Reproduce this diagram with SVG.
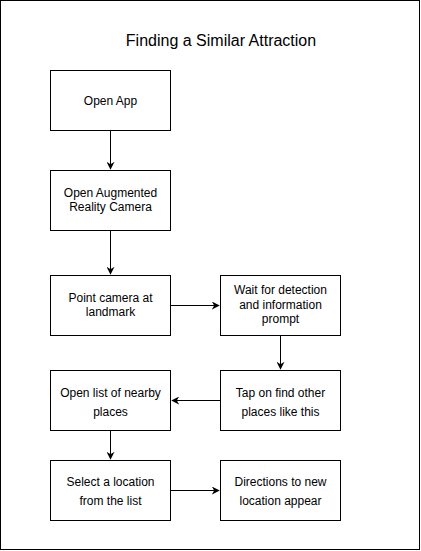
<svg xmlns="http://www.w3.org/2000/svg" width="421" height="551" viewBox="0 0 421 551">
<style>
.box{fill:#fff;stroke:#000;stroke-width:1}
.t{font-family:"Liberation Sans",Arial,sans-serif;font-size:12px;fill:#000;text-anchor:middle}
.c{fill:none;stroke:#000;stroke-width:1}
</style>
<defs>
<marker id="a" viewBox="0 0 10 10" refX="9" refY="5" markerWidth="8" markerHeight="8" markerUnits="userSpaceOnUse" orient="auto">
<path d="M0,0 L10,5 L0,10 L3,5 Z" fill="#000"/>
</marker>
</defs>
<rect x="0.5" y="0.5" width="419" height="549" fill="#fff" stroke="#000"/>
<text x="221" y="46" font-family="Liberation Sans,Arial,sans-serif" font-size="16" text-anchor="middle">Finding a Similar Attraction</text>
<g id="connectors">
<path class="c" d="M110.5,130.5 V169" marker-end="url(#a)"/>
<path class="c" d="M110.5,230.5 V274" marker-end="url(#a)"/>
<path class="c" d="M170.5,305.5 H219" marker-end="url(#a)"/>
<path class="c" d="M280.5,335.5 V369" marker-end="url(#a)"/>
<path class="c" d="M220.5,400.5 H172" marker-end="url(#a)"/>
<path class="c" d="M110.5,430.5 V459" marker-end="url(#a)"/>
<path class="c" d="M170.5,490.5 H219" marker-end="url(#a)"/>
</g>
<g id="n1"><rect class="box" x="50.5" y="70.5" width="120" height="60"/><text class="t" x="110.5" y="104.5">Open App</text></g>
<g id="n2"><rect class="box" x="50.5" y="170.5" width="120" height="60"/><text class="t" x="110.5" y="196.5">Open Augmented</text><text class="t" x="110.5" y="211">Reality Camera</text></g>
<g id="n3"><rect class="box" x="50.5" y="275.5" width="120" height="60"/><text class="t" x="110.5" y="301.5">Point camera at</text><text class="t" x="110.5" y="316">landmark</text></g>
<g id="n4"><rect class="box" x="220.5" y="275.5" width="120" height="60"/><text class="t" x="280.5" y="294">Wait for detection</text><text class="t" x="280.5" y="308.5">and information</text><text class="t" x="280.5" y="323">prompt</text></g>
<g id="n5"><rect class="box" x="220.5" y="370.5" width="120" height="60"/><text class="t" x="280.5" y="396.5">Tap on find other</text><text class="t" x="280.5" y="416">places like this</text></g>
<g id="n6"><rect class="box" x="50.5" y="370.5" width="120" height="60"/><text class="t" x="110.5" y="396.5">Open list of nearby</text><text class="t" x="110.5" y="416">places</text></g>
<g id="n7"><rect class="box" x="50.5" y="460.5" width="120" height="60"/><text class="t" x="110.5" y="485.5">Select a location</text><text class="t" x="110.5" y="505">from the list</text></g>
<g id="n8"><rect class="box" x="220.5" y="460.5" width="120" height="60"/><text class="t" x="280.5" y="485.5">Directions to new</text><text class="t" x="280.5" y="505">location appear</text></g>
</svg>
